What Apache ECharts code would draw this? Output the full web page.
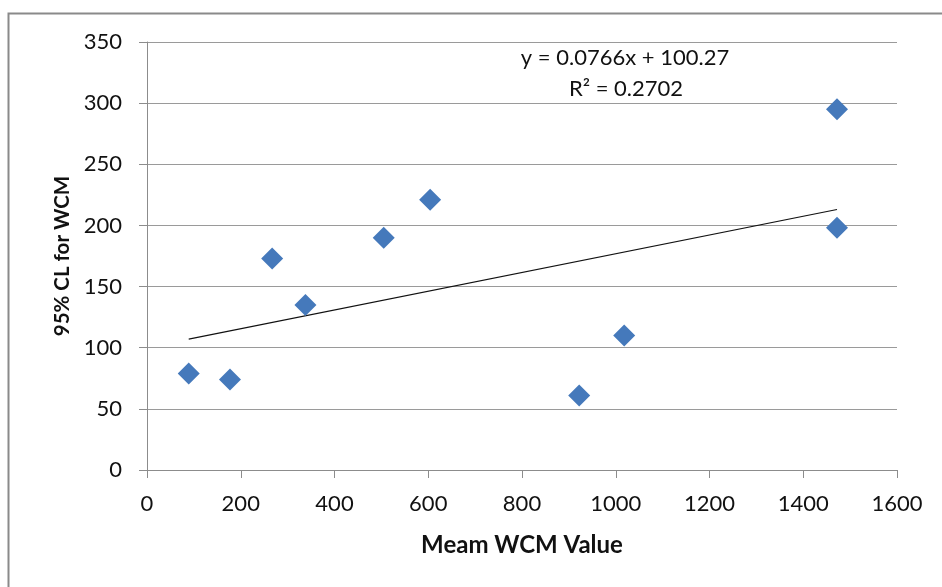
<!DOCTYPE html>
<html>
<head>
<meta charset="utf-8">
<script src="https://cdn.jsdelivr.net/npm/echarts@6/dist/echarts.min.js"></script>
<style>
  html, body { margin: 0; padding: 0; background: #fff; }
  #chart { width: 942px; height: 587px; }
</style>
</head>
<body>
<div id="chart"></div>
<script>
// mean WCM value vs 95% CL
const meanWcm = [89, 177, 267, 338, 505, 604, 922, 1018, 1472, 1472]
const clWcm = [79, 74, 173, 135, 190, 221, 61, 110, 295, 198]

// trendline as printed on the chart
const slope = 0.0766
const intercept = 100.27
const rSquared = '0.2702'

const xTicks = [0, 1600, 200]
const yTicks = [0, 350, 50]

const fontFamily = 'Lato, "Open Sans", sans-serif'
const axisGray = '#8c8c8c'

const xMin = Math.min(...meanWcm)
const xMax = Math.max(...meanWcm)
const trend = [
  [xMin, slope * xMin + intercept],
  [xMax, slope * xMax + intercept]
]

const chart = echarts.init(document.getElementById('chart'))

chart.setOption({
  backgroundColor: '#fff',
  animation: false,
  grid: { left: 147, right: 45, top: 42, bottom: 117 },
  xAxis: {
    type: 'value',
    min: xTicks[0],
    max: xTicks[1],
    interval: xTicks[2],
    name: 'Meam WCM Value',
    nameLocation: 'middle',
    nameGap: 63,
    nameTextStyle: { fontFamily, fontSize: 24, fontWeight: 'bold', color: '#111' },
    axisLine: { lineStyle: { color: axisGray, width: 1 } },
    axisTick: { show: true, length: 8, lineStyle: { color: axisGray } },
    axisLabel: { fontFamily, fontSize: 22, color: '#111', margin: 23, formatter: (v) => String(v) },
    splitLine: { show: false }
  },
  yAxis: {
    type: 'value',
    min: yTicks[0],
    max: yTicks[1],
    interval: yTicks[2],
    name: '95% CL for WCM',
    nameLocation: 'middle',
    nameGap: 74,
    nameRotate: 90,
    nameTextStyle: { fontFamily, fontSize: 20.5, fontWeight: 'bold', color: '#111' },
    axisLine: { show: true, lineStyle: { color: axisGray, width: 1 } },
    axisTick: { show: true, length: 8, lineStyle: { color: axisGray } },
    axisLabel: { fontFamily, fontSize: 22, color: '#111', margin: 25, formatter: (v) => String(v) },
    splitLine: { show: true, lineStyle: { color: '#9a9a9a', width: 1 } }
  },
  graphic: [
    {
      type: 'rect',
      silent: true,
      shape: { x: 8.5, y: 13.5, width: 1000, height: 1000 },
      style: { fill: 'none', stroke: '#8a8a8a', lineWidth: 2 },
      z: -1
    },
    {
      type: 'text',
      silent: true,
      style: {
        text: 'y = 0.0766x + 100.27',
        x: 625, y: 58,
        align: 'center', verticalAlign: 'middle',
        font: '22px ' + fontFamily,
        fill: '#111'
      }
    },
    {
      type: 'text',
      silent: true,
      style: {
        text: 'R² = ' + rSquared,
        x: 626, y: 89,
        align: 'center', verticalAlign: 'middle',
        font: '22px ' + fontFamily,
        fill: '#111'
      }
    }
  ],
  series: [
    {
      type: 'line',
      data: trend,
      symbol: 'none',
      lineStyle: { color: '#111', width: 1.2 },
      z: 2
    },
    {
      type: 'scatter',
      data: meanWcm.map((x, i) => [x, clWcm[i]]),
      symbol: 'diamond',
      symbolSize: [22, 22],
      itemStyle: { color: '#4579bb', opacity: 1 },
      z: 3
    }
  ]
})
</script>
</body>
</html>
